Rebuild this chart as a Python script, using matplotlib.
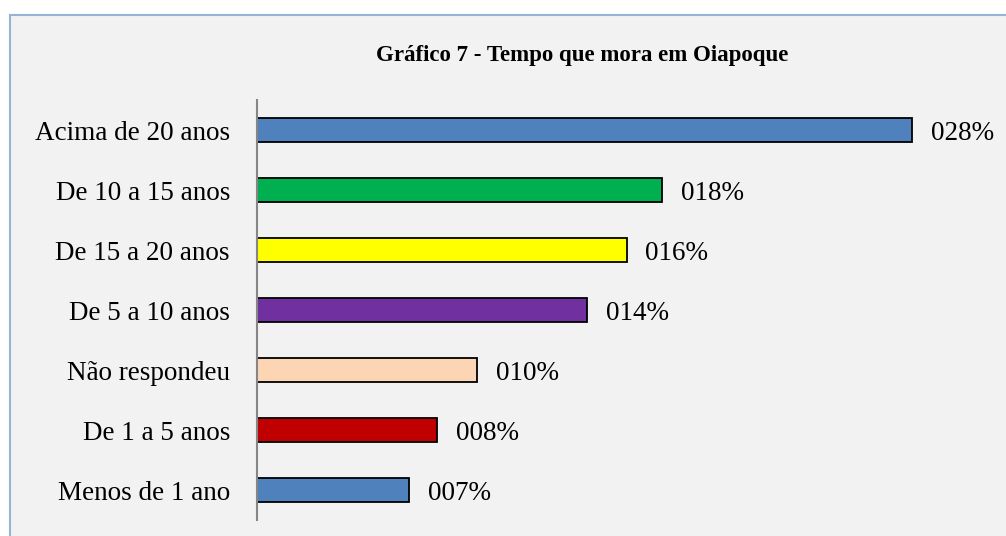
#!/usr/bin/env python3
# -*- coding: utf-8 -*-

import matplotlib
matplotlib.use('Agg')
import matplotlib.pyplot as plt
from matplotlib.patches import Rectangle

categories = ['Acima de 20 anos', 'De 10 a 15 anos', 'De 15 a 20 anos', 'De 5 a 10 anos',
              'Não respondeu', 'De 1 a 5 anos', 'Menos de 1 ano']
values = [28.0, 17.3, 15.8, 14.1, 9.4, 7.7, 6.5]
value_labels = ['028%', '018%', '016%', '014%', '010%', '008%', '007%']
colors = ['#4F81BD', '#00B050', '#FFFF00', '#7030A0', '#FCD5B5', '#C00000', '#4F81BD']
title = 'Gráfico 7 - Tempo que mora em Oiapoque'

plt.rcParams['font.family'] = ['Liberation Serif', 'DejaVu Serif']

fig = plt.figure(figsize=(10.06, 5.36), dpi=100)
fig.patch.set_facecolor('white')
# chart area frame
fig.patches.append(Rectangle((10 / 1006, -0.1), 1.1, 1 - 15 / 536 + 0.1,
                             transform=fig.transFigure, facecolor='#F2F2F2',
                             edgecolor='#95B3D7', linewidth=1.5, zorder=-1))

ax = fig.add_axes([257 / 1006, 16 / 536, 702 / 1006, 420 / 536])
ax.set_facecolor('none')
ypos = list(range(len(categories)))
ax.barh(ypos, values, height=0.4, color=colors, edgecolor='black', linewidth=1.3)
ax.set_xlim(0, 30)
ax.set_ylim(len(categories) - 0.5, -0.5)
ax.set_yticks(ypos)
ax.set_yticklabels(categories, fontsize=19.5)
ax.tick_params(axis='y', length=0, pad=19.5)
ax.set_xticks([])
for s in ['top', 'right', 'bottom']:
  ax.spines[s].set_visible(False)
ax.spines['left'].set_color('#868686')
ax.spines['left'].set_linewidth(1.5)

for y, v, lab in zip(ypos, values, value_labels):
  ax.annotate(lab, (v, y), xytext=(13.5, 0), textcoords='offset points',
              va='center_baseline', ha='left', fontsize=19.5)

fig.text(582 / 1006, 1 - 56 / 536, title, ha='center', va='center', fontsize=16.5,
         fontweight='bold')

fig.savefig('out.png', dpi=100)
